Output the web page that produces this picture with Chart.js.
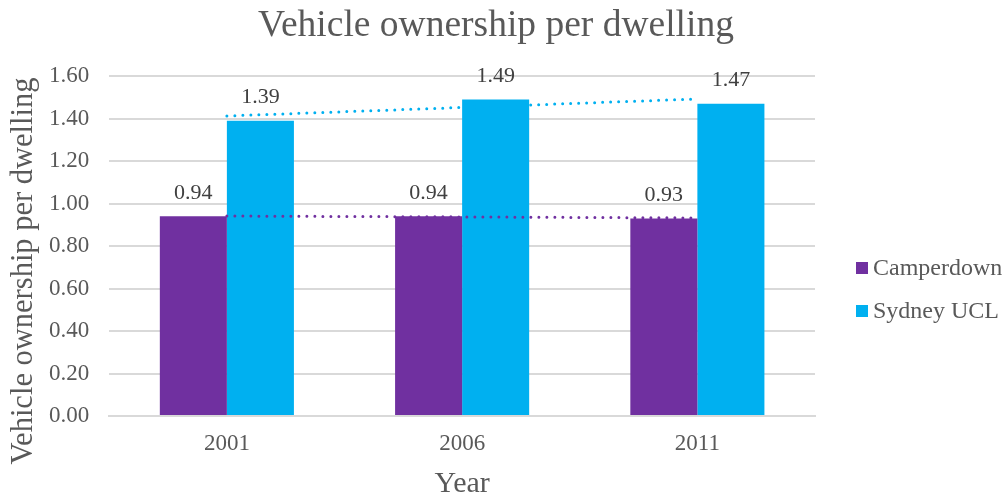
<!DOCTYPE html>
<html>
<head>
<meta charset="utf-8">
<script src="https://cdn.jsdelivr.net/npm/chart.js@4"></script>
<style>
  html, body { margin: 0; padding: 0; background: #fff; }
  #wrap { width: 1006px; height: 495px; }
</style>
</head>
<body>
<div id="wrap"><canvas id="c"></canvas></div>
<script>
// values
const years = ['2001', '2006', '2011'];
const camperdown = [0.94, 0.94, 0.93];
const sydneyUCL = [1.39, 1.49, 1.47];
// dotted trendlines (as drawn in the picture)
const camperdownTrend = [0.941, 0.937, 0.932];
const sydneyTrend = [1.412, 1.452, 1.492];
const yTicks = [0, 0.2, 0.4, 0.6, 0.8, 1.0, 1.2, 1.4, 1.6];

const PURPLE = '#7030A0';
const BLUE = '#00B0F0';
const TEXT = '#595959';
const SERIF = '"Liberation Serif", "Times New Roman", serif';
const Y_TITLE = 'Vehicle ownership per dwelling';

// labels above bars
const barLabels = {
  id: 'barLabels',
  afterDatasetsDraw(chart) {
    const ctx = chart.ctx;
    ctx.save();
    ctx.font = '22px ' + SERIF;
    ctx.fillStyle = '#404040';
    ctx.textAlign = 'center';
    ctx.textBaseline = 'bottom';
    chart.data.datasets.forEach((ds, i) => {
      if (ds.type !== 'bar') return;
      chart.getDatasetMeta(i).data.forEach((bar, j) => {
        ctx.fillText(ds.data[j].toFixed(2), bar.x, bar.y - 12);
      });
    });
    ctx.restore();
  }
};

// legend in the space kept free by the hidden right axis, and the y title
// (which sits a bit lower than the plot centre in the original)
const sideText = {
  id: 'sideText',
  afterDraw(chart) {
    const ctx = chart.ctx;
    const area = chart.chartArea;
    const x0 = chart.scales.y2.left + 41;
    let y = area.top + 192;
    ctx.save();
    ctx.font = '24px ' + SERIF;
    ctx.textBaseline = 'middle';
    ctx.textAlign = 'left';
    chart.data.datasets.forEach(ds => {
      if (ds.type !== 'bar') return;
      ctx.fillStyle = ds.backgroundColor;
      ctx.fillRect(x0, y - 6, 12, 12);
      ctx.fillStyle = TEXT;
      ctx.fillText(ds.label, x0 + 17, y + 1);
      y += 43;
    });

    const ys = chart.scales.y;
    ctx.translate(ys.left + 24, (area.top + area.bottom) / 2 + 25);
    ctx.rotate(-Math.PI / 2);
    ctx.font = '30.5px ' + SERIF;
    ctx.textAlign = 'center';
    ctx.fillText(Y_TITLE, 0, 0);
    ctx.restore();
  }
};

new Chart(document.getElementById('c'), {
  data: {
    labels: years,
    datasets: [
      { type: 'bar', label: 'Camperdown', data: camperdown, backgroundColor: PURPLE, order: 2 },
      { type: 'bar', label: 'Sydney UCL', data: sydneyUCL, backgroundColor: BLUE, order: 2 },
      { type: 'line', label: 'trend1', data: camperdownTrend, borderColor: PURPLE, borderWidth: 3,
        borderDash: [0, 8], borderCapStyle: 'round', pointRadius: 0, fill: false, order: 1 },
      { type: 'line', label: 'trend2', data: sydneyTrend, borderColor: BLUE, borderWidth: 3,
        borderDash: [0, 8], borderCapStyle: 'round', pointRadius: 0, fill: false, order: 1 }
    ]
  },
  options: {
    responsive: true,
    maintainAspectRatio: false,
    animation: false,
    datasets: { bar: { categoryPercentage: 0.57, barPercentage: 1.0 } },
    layout: { padding: { left: 0, right: 14, top: 2, bottom: 0 } },
    plugins: {
      title: {
        display: true,
        text: 'Vehicle ownership per dwelling',
        color: TEXT,
        font: { family: SERIF, size: 37.5, weight: 'normal', lineHeight: 1.2 },
        padding: { top: 2, bottom: 27 }
      },
      legend: { display: false },
      tooltip: { enabled: false }
    },
    scales: {
      x: {
        grid: { display: false },
        border: { color: '#d9d9d9', width: 2 },
        ticks: { color: TEXT, font: { family: SERIF, size: 23, lineHeight: 1 }, padding: 8 },
        title: { display: true, text: 'Year', color: TEXT,
                 font: { family: SERIF, size: 30, lineHeight: 1 }, padding: { top: 11, bottom: -4 } },
        afterFit: a => { a.height -= 5; }
      },
      y: {
        min: 0, max: 1.6,
        afterBuildTicks: axis => { axis.ticks = yTicks.map(v => ({ value: v })); },
        grid: { color: '#d9d9d9', lineWidth: 2, drawTicks: false },
        border: { display: false },
        ticks: { color: TEXT, font: { family: SERIF, size: 23 }, padding: 20,
                 callback: v => v.toFixed(2) },
        // space is kept here, the text itself is drawn by sideText
        title: { display: true, text: Y_TITLE, color: 'rgba(0,0,0,0)',
                 font: { family: SERIF, size: 30, lineHeight: 1 }, padding: { top: 9, bottom: 9 } },
        afterFit: a => { a.width -= 19; }
      },
      y2: {
        position: 'right',
        min: 0, max: 1.6,
        grid: { display: false },
        border: { display: false },
        ticks: { display: false },
        afterFit: a => { a.width = 177; }
      }
    }
  },
  plugins: [barLabels, sideText]
});
</script>
</body>
</html>
